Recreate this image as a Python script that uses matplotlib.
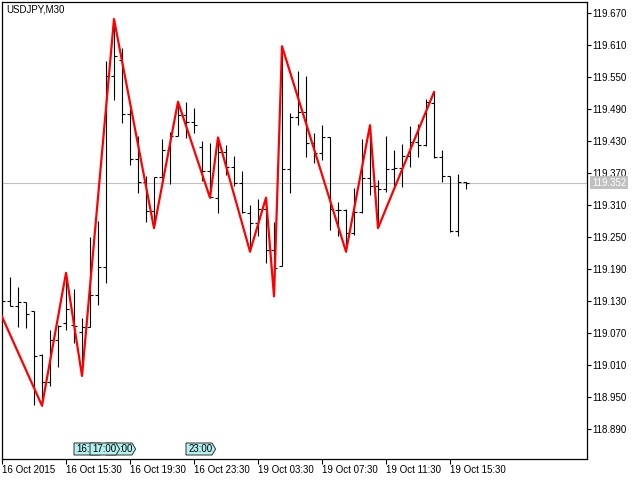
# USDJPY M30 bar chart with zigzag overlay, MetaTrader style
import numpy as np
import matplotlib
matplotlib.use("Agg")
import matplotlib.pyplot as plt
import matplotlib.transforms as mtransforms
from matplotlib.patches import Polygon

symbol = "USDJPY,M30"

# OHLC for each 30 minute bar, starting 16 Oct 2015 11:30
opens = [119.133, 119.131, 119.121, 119.129, 119.111, 119.029, 118.979, 119.058,
         119.089, 119.086, 119.073, 119.082, 119.142, 119.194, 119.552, 119.582,
         119.481, 119.397, 119.354, 119.299, 119.363, 119.414, 119.440, 119.479,
         119.466, 119.419, 119.374, 119.324, 119.410, 119.382, 119.352, 119.296,
         119.277, 119.303, 119.226, 119.196, 119.378, 119.476, 119.485, 119.427,
         119.408, 119.438, 119.301, 119.301, 119.258, 119.297, 119.361, 119.346,
         119.341, 119.378, 119.380, 119.403, 119.429, 119.423, 119.502, 119.401,
         119.365, 119.262, 119.354]
highs = [119.151, 119.176, 119.157, 119.129, 119.111, 119.031, 119.075, 119.086,
         119.183, 119.153, 119.099, 119.251, 119.281, 119.581, 119.659, 119.605,
         119.491, 119.440, 119.365, 119.363, 119.434, 119.447, 119.504, 119.504,
         119.492, 119.431, 119.427, 119.437, 119.423, 119.403, 119.374, 119.311,
         119.322, 119.324, 119.279, 119.608, 119.483, 119.562, 119.552, 119.446,
         119.461, 119.438, 119.316, 119.303, 119.342, 119.434, 119.460, 119.357,
         119.440, 119.414, 119.425, 119.459, 119.462, 119.509, 119.522, 119.414,
         119.365, 119.369, 119.354]
lows = [119.114, 119.120, 119.082, 119.080, 118.936, 118.934, 118.970, 119.006,
        119.075, 119.052, 118.990, 119.082, 119.123, 119.164, 119.507, 119.464,
        119.386, 119.333, 119.279, 119.267, 119.352, 119.350, 119.440, 119.436,
        119.446, 119.356, 119.324, 119.296, 119.367, 119.346, 119.296, 119.223,
        119.252, 119.202, 119.139, 119.196, 119.333, 119.461, 119.401, 119.389,
        119.395, 119.264, 119.252, 119.223, 119.254, 119.296, 119.329, 119.267,
        119.335, 119.344, 119.344, 119.382, 119.401, 119.421, 119.399, 119.354,
        119.260, 119.252, 119.341]
closes = [119.131, 119.121, 119.129, 119.106, 119.028, 118.979, 119.058, 119.084,
          119.116, 119.084, 119.082, 119.142, 119.194, 119.552, 119.590, 119.481,
          119.397, 119.354, 119.299, 119.363, 119.414, 119.440, 119.479, 119.466,
          119.461, 119.374, 119.326, 119.410, 119.382, 119.352, 119.297, 119.277,
          119.303, 119.226, 119.192, 119.378, 119.476, 119.485, 119.427, 119.408,
          119.438, 119.303, 119.301, 119.258, 119.297, 119.361, 119.346, 119.341,
          119.378, 119.380, 119.403, 119.429, 119.423, 119.504, 119.401, 119.365,
          119.262, 119.354, 119.352]

# zigzag turning points (bar index, price)
zz_bars = [0, 5, 8, 10, 14, 19, 22, 26, 27, 31, 33, 34, 35, 43, 46, 47, 54]
zz_prices = [119.101, 118.934, 119.183, 118.990, 119.659, 119.267, 119.504, 119.324,
             119.437, 119.223, 119.324, 119.139, 119.608, 119.223, 119.460, 119.267,
             119.522]

time_ticks = [0, 8, 16, 24, 32, 40, 48, 56]
time_labels = ["16 Oct 2015", "16 Oct 15:30", "16 Oct 19:30", "16 Oct 23:30",
               "19 Oct 03:30", "19 Oct 07:30", "19 Oct 11:30", "19 Oct 15:30"]

price_ticks = [119.670, 119.610, 119.550, 119.490, 119.430, 119.370, 119.310,
               119.250, 119.190, 119.130, 119.070, 119.010, 118.950, 118.890]
last_price = 119.352

# session markers along the bottom, in drawing order
# (16:00 and 18:00 are mostly hidden under 17:00, only their visible text is kept)
session_bars = [9, 13, 11, 23]
session_labels = ["16:", ":00", "17:00", "23:00"]
session_align = ["left", "right", "left", "left"]

plt.rcParams['font.family'] = ['Liberation Sans', 'DejaVu Sans']
plt.rcParams['font.size'] = 7


def plot_bars(ax):
    x = np.arange(len(opens))
    ax.vlines(x, lows, highs, color='black', lw=0.8, zorder=2)
    ax.hlines(opens, x - 0.4, x, color='black', lw=0.8, zorder=2)
    ax.hlines(closes, x, x + 0.4, color='black', lw=0.8, zorder=2)


def plot_sessions(ax):
    trans = mtransforms.blended_transform_factory(ax.transData, ax.transAxes)
    y0, y1 = 4 / 457, 16 / 457
    ym = (y0 + y1) / 2
    for k, (b, lab, al) in enumerate(zip(session_bars, session_labels, session_align)):
        pts = [(b, y0), (b + 3.25, y0), (b + 3.7, ym), (b + 3.25, y1), (b, y1)]
        ax.add_patch(Polygon(pts, closed=True, transform=trans, facecolor='#b4f0f0',
                             edgecolor='#303030', lw=0.7, zorder=5 + 2 * k))
        tx = b + 0.3 if al == "left" else b + 3.3
        ax.text(tx, ym, lab, transform=trans, va='center', ha=al,
                fontsize=7, zorder=6 + 2 * k)


def main():
    fig = plt.figure(figsize=(6.4, 4.8), dpi=100)
    ax = fig.add_axes([2 / 640, 21 / 480, 585 / 640, 457 / 480])

    ax.axhline(last_price, color='#c0c0c0', lw=0.8, zorder=1)
    plot_bars(ax)
    ax.plot(zz_bars, zz_prices, color='red', lw=1.6, zorder=3)
    plot_sessions(ax)

    ax.set_xlim(0, 73.125)
    ax.set_ylim(118.834, 119.691)

    ax.set_xticks(time_ticks)
    ax.set_xticklabels(time_labels, ha='left')
    ax.tick_params(axis='x', length=3.5, width=0.8, pad=0.5)

    ax.yaxis.tick_right()
    ax.set_yticks(price_ticks)
    ax.set_yticklabels([f"{p:.3f}" for p in price_ticks])
    ax.tick_params(axis='y', length=3, width=0.8, pad=0.5)

    for s in ax.spines.values():
        s.set_color('black')
        s.set_linewidth(0.9)

    # current price label on the price scale
    trans = mtransforms.blended_transform_factory(ax.transAxes, ax.transData)
    ax.annotate(f"{last_price:.3f}", xy=(1, last_price), xycoords=trans,
                xytext=(3.5, 0), textcoords='offset points', va='center', ha='left',
                color='white', fontsize=7, annotation_clip=False,
                bbox=dict(facecolor='#c0c0c0', edgecolor='none', pad=1.2))

    fig.text(6 / 640, 1 - 9 / 480, symbol, va='center', ha='left', fontsize=7)

    fig.savefig('out.png', dpi=100)


if __name__ == "__main__":
    main()
